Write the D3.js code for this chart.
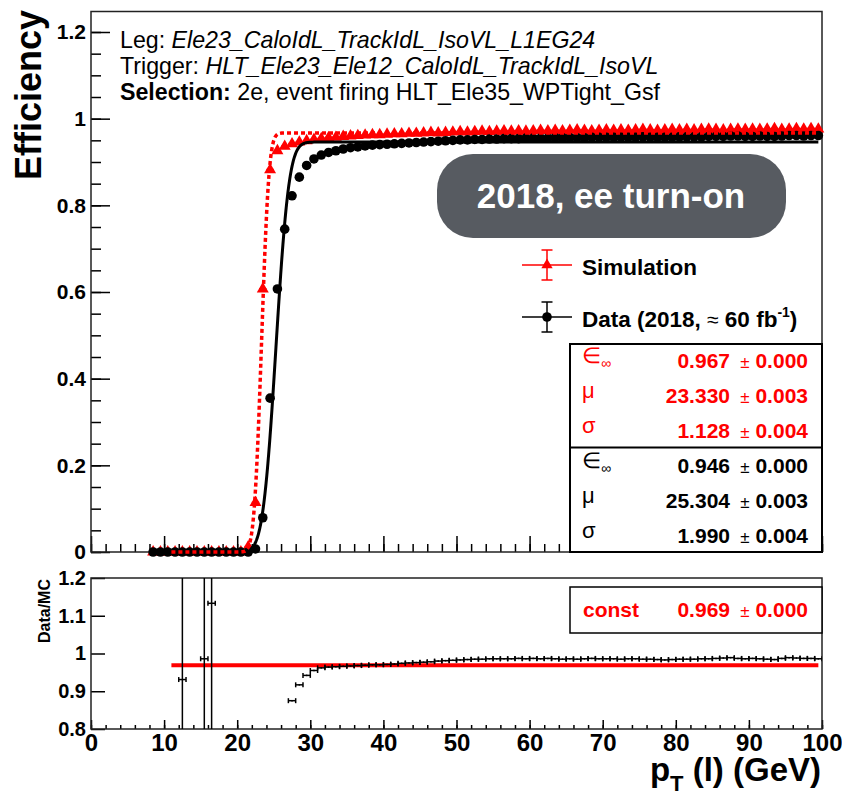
<!DOCTYPE html>
<html>
<head>
<meta charset="utf-8">
<script src="https://cdn.jsdelivr.net/npm/d3@7"></script>
<style>
body { margin: 0; background: #fff; }
svg { display: block; font-family: "Liberation Sans", Arial, Helvetica, sans-serif; }
</style>
</head>
<body>
<script>
var binCenters = [8.5, 9.5, 10.5, 11.5, 12.5, 13.5, 14.5, 15.5, 16.5, 17.5, 18.5, 19.5, 20.5, 21.5, 22.5, 23.5, 24.5, 25.5, 26.5, 27.5,
  28.5, 29.5, 30.5, 31.5, 32.5, 33.5, 34.5, 35.5, 36.5, 37.5, 38.5, 39.5, 40.5, 41.5, 42.5, 43.5, 44.5, 45.5, 46.5, 47.5,
  48.5, 49.5, 50.5, 51.5, 52.5, 53.5, 54.5, 55.5, 56.5, 57.5, 58.5, 59.5, 60.5, 61.5, 62.5, 63.5, 64.5, 65.5, 66.5, 67.5,
  68.5, 69.5, 70.5, 71.5, 72.5, 73.5, 74.5, 75.5, 76.5, 77.5, 78.5, 79.5, 80.5, 81.5, 82.5, 83.5, 84.5, 85.5, 86.5, 87.5,
  88.5, 89.5, 90.5, 91.5, 92.5, 93.5, 94.5, 95.5, 96.5, 97.5, 98.5, 99.5];

var simEff = [0, 0, 0, 0, 0, 0, 0, 0, 0, 0, 0, 0, 0, 0.012, 0.114, 0.607, 0.882, 0.926, 0.936, 0.942,
  0.946, 0.949, 0.952, 0.954, 0.956, 0.957, 0.959, 0.960, 0.961, 0.962, 0.963, 0.963, 0.964, 0.965, 0.965, 0.966, 0.966, 0.967, 0.968, 0.967,
  0.968, 0.969, 0.970, 0.969, 0.970, 0.971, 0.970, 0.971, 0.972, 0.971, 0.972, 0.971, 0.972, 0.973, 0.972, 0.973, 0.972, 0.973, 0.974, 0.973,
  0.972, 0.973, 0.974, 0.973, 0.974, 0.973, 0.974, 0.975, 0.974, 0.973, 0.974, 0.975, 0.974, 0.975, 0.974, 0.975, 0.976, 0.975, 0.974, 0.975,
  0.976, 0.975, 0.976, 0.975, 0.976, 0.977, 0.975, 0.976, 0.977, 0.976, 0.977, 0.976];

var dataEff = [0, 0, 0, 0, 0, 0, 0, 0, 0, 0, 0, 0, 0, 0, 0.007, 0.079, 0.355, 0.607, 0.745, 0.822,
  0.865, 0.892, 0.907, 0.916, 0.922, 0.926, 0.930, 0.933, 0.935, 0.937, 0.939, 0.940, 0.941, 0.942, 0.943, 0.944, 0.945, 0.946, 0.947, 0.948,
  0.949, 0.950, 0.951, 0.951, 0.952, 0.952, 0.953, 0.953, 0.954, 0.954, 0.954, 0.955, 0.955, 0.955, 0.955, 0.956, 0.956, 0.956, 0.956, 0.956,
  0.957, 0.957, 0.957, 0.957, 0.957, 0.957, 0.957, 0.958, 0.957, 0.957, 0.957, 0.957, 0.958, 0.958, 0.958, 0.958, 0.959, 0.959, 0.959, 0.960,
  0.960, 0.959, 0.959, 0.960, 0.959, 0.959, 0.960, 0.961, 0.961, 0.960, 0.961, 0.961];

var ratioX = [12.5, 15.5, 16.5, 27.5, 28.5, 29.5, 30.5, 31.5, 32.5, 33.5, 34.5, 35.5, 36.5, 37.5, 38.5, 39.5, 40.5, 41.5, 42.5, 43.5,
  44.5, 45.5, 46.5, 47.5, 48.5, 49.5, 50.5, 51.5, 52.5, 53.5, 54.5, 55.5, 56.5, 57.5, 58.5, 59.5, 60.5, 61.5, 62.5, 63.5,
  64.5, 65.5, 66.5, 67.5, 68.5, 69.5, 70.5, 71.5, 72.5, 73.5, 74.5, 75.5, 76.5, 77.5, 78.5, 79.5, 80.5, 81.5, 82.5, 83.5,
  84.5, 85.5, 86.5, 87.5, 88.5, 89.5, 90.5, 91.5, 92.5, 93.5, 94.5, 95.5, 96.5, 97.5, 98.5, 99.5];

var ratioVal = [0.931, 0.986, 1.133, 0.875, 0.917, 0.942, 0.955, 0.962, 0.964, 0.965, 0.966, 0.967, 0.968, 0.969, 0.970, 0.970, 0.971, 0.972, 0.974, 0.975,
  0.976, 0.977, 0.978, 0.980, 0.981, 0.982, 0.983, 0.984, 0.985, 0.985, 0.986, 0.986, 0.986, 0.986, 0.987, 0.986, 0.987, 0.986, 0.987, 0.986,
  0.985, 0.986, 0.985, 0.986, 0.987, 0.986, 0.986, 0.986, 0.985, 0.986, 0.986, 0.985, 0.985, 0.984, 0.983, 0.984, 0.985, 0.985, 0.985, 0.986,
  0.986, 0.987, 0.988, 0.989, 0.987, 0.986, 0.987, 0.986, 0.985, 0.984, 0.987, 0.989, 0.988, 0.987, 0.987, 0.986];

var ratioErr = [1.5, 1.5, 1.5, 0.002, 0.002, 0.002, 0.002, 0.002, 0.002, 0.002, 0.002, 0.002, 0.002, 0.002, 0.002, 0.002, 0.002, 0.002, 0.002, 0.002,
  0.002, 0.002, 0.002, 0.002, 0.002, 0.002, 0.002, 0.002, 0.002, 0.002, 0.002, 0.002, 0.002, 0.002, 0.002, 0.002, 0.002, 0.002, 0.002, 0.002,
  0.002, 0.002, 0.002, 0.002, 0.002, 0.002, 0.002, 0.002, 0.002, 0.002, 0.002, 0.002, 0.002, 0.002, 0.002, 0.002, 0.002, 0.002, 0.002, 0.002,
  0.002, 0.002, 0.002, 0.002, 0.002, 0.002, 0.002, 0.002, 0.002, 0.002, 0.002, 0.002, 0.002, 0.002, 0.002, 0.002];

var simFit = [0.967, 23.330, 1.128];
var simFitErr = [0.000, 0.003, 0.004];
var dataFit = [0.946, 25.304, 1.990];
var dataFitErr = [0.000, 0.003, 0.004];
var constFit = [0.969, 0.000];
var fitRange = [11, 99.5];

var effTicks = [0, 0.2, 0.4, 0.6, 0.8, 1, 1.2];
var ratioTicks = [0.8, 0.9, 1, 1.1, 1.2];
var ptTicks = [0, 10, 20, 30, 40, 50, 60, 70, 80, 90, 100];

var width = 842, height = 797;
var frameL = 91, frameR = 822, topT = 11.5, topB = 552, botT = 578, botB = 729;

var svg = d3.select('body').append('svg')
  .attr('width', width)
  .attr('height', height);

var x = d3.scaleLinear().domain([0, 100]).range([frameL, frameR]);
var yEff = d3.scaleLinear().domain([0, 1.2]).range([topB, 32]);
var yRatio = d3.scaleLinear().domain([0.8, 1.2]).range([botB, botT]);

var ptMinor = d3.range(0, 101, 2);
var effMinor = d3.range(0, 1.24, 0.05);

function erf(v) {
  var s = v < 0 ? -1 : 1;
  v = Math.abs(v);
  var t = 1 / (1 + 0.3275911 * v);
  var y = 1 - (((((1.061405429 * t - 1.453152027) * t) + 1.421413741) * t - 0.284496736) * t + 0.254829592) * t * Math.exp(-v * v);
  return s * y;
}
function turnOn(p) {
  return function (pt) { return p[0] / 2 * (1 + erf((pt - p[1]) / p[2])); };
}

function styleAxis(g, size) {
  g.select('.domain').remove();
  g.selectAll('line').attr('stroke', '#000').attr('stroke-width', 1.5);
  g.selectAll('text').attr('fill', '#000').attr('font-weight', 'bold').attr('font-size', size);
}

// top panel axes
svg.append('g').attr('transform', 'translate(0,' + topB + ')')
  .call(d3.axisBottom(x).tickValues(ptMinor).tickSize(-8).tickFormat(''))
  .call(styleAxis, 0);
svg.append('g').attr('transform', 'translate(0,' + topB + ')')
  .call(d3.axisBottom(x).tickValues(ptTicks).tickSize(-16).tickFormat(''))
  .call(styleAxis, 0);
svg.append('g').attr('transform', 'translate(' + frameL + ',0)')
  .call(d3.axisLeft(yEff).tickValues(effMinor).tickSize(-10).tickFormat(''))
  .call(styleAxis, 0);
svg.append('g').attr('transform', 'translate(' + frameL + ',0)')
  .call(d3.axisLeft(yEff).tickValues(effTicks).tickSize(-19).tickPadding(5).tickFormat(d3.format('~g')))
  .call(styleAxis, 21);

svg.append('rect')
  .attr('x', frameL).attr('y', topT)
  .attr('width', frameR - frameL).attr('height', topB - topT)
  .attr('fill', 'none').attr('stroke', '#222').attr('stroke-width', 1.5);

// bottom panel axes
svg.append('g').attr('transform', 'translate(0,' + botB + ')')
  .call(d3.axisBottom(x).tickValues(ptMinor).tickSize(-4).tickFormat(''))
  .call(styleAxis, 0);
svg.append('g').attr('transform', 'translate(0,' + botB + ')')
  .call(d3.axisBottom(x).tickValues(ptTicks).tickSize(-9).tickPadding(5).tickFormat(d3.format('d')))
  .call(styleAxis, 24);
svg.append('g').attr('transform', 'translate(' + frameL + ',0)')
  .call(d3.axisLeft(yRatio).tickValues(ratioTicks).tickSize(-14).tickPadding(5).tickFormat(d3.format('~g')))
  .call(styleAxis, 20);

svg.append('rect')
  .attr('x', frameL).attr('y', botT)
  .attr('width', frameR - frameL).attr('height', botB - botT)
  .attr('fill', 'none').attr('stroke', '#222').attr('stroke-width', 1.5);

// titles
svg.append('text')
  .attr('transform', 'translate(41,10) rotate(-90)')
  .attr('text-anchor', 'end')
  .attr('font-size', 36).attr('font-weight', 'bold')
  .text('Efficiency');

svg.append('text')
  .attr('transform', 'translate(50,579) rotate(-90)')
  .attr('text-anchor', 'end')
  .attr('font-size', 16).attr('font-weight', 'bold')
  .text('Data/MC');

var xt = svg.append('text')
  .attr('x', 821).attr('y', 781)
  .attr('text-anchor', 'end')
  .attr('font-size', 33).attr('font-weight', 'bold');
xt.append('tspan').text('p');
xt.append('tspan').attr('font-size', 22).attr('dy', 10).text('T');
xt.append('tspan').attr('dy', -10).text(' (l) (GeV)');

// header text
var hdr = [
  [['Leg: ', 'normal', 'normal'], ['Ele23_CaloIdL_TrackIdL_IsoVL_L1EG24', 'italic', 'normal']],
  [['Trigger: ', 'normal', 'normal'], ['HLT_Ele23_Ele12_CaloIdL_TrackIdL_IsoVL', 'italic', 'normal']],
  [['Selection:', 'normal', 'bold'], [' 2e, event firing HLT_Ele35_WPTight_Gsf', 'normal', 'normal']]
];
hdr.forEach(function (line, i) {
  var t = svg.append('text').attr('x', 120).attr('y', 48 + i * 26).attr('font-size', 23.2);
  line.forEach(function (p) {
    t.append('tspan').attr('font-style', p[1]).attr('font-weight', p[2]).text(p[0]);
  });
});

// rounded label
svg.append('rect')
  .attr('x', 437).attr('y', 154).attr('width', 349).attr('height', 84)
  .attr('rx', 36).attr('ry', 36)
  .attr('fill', '#575b61');
svg.append('text')
  .attr('x', 611).attr('y', 208)
  .attr('text-anchor', 'middle')
  .attr('font-size', 35).attr('font-weight', 'bold').attr('fill', '#fff')
  .text('2018, ee turn-on');

// points
function drawPoints(g, ys, color, kind) {
  var pts = binCenters.map(function (c, i) { return { x: c, y: ys[i] }; });
  g.selectAll('.xerr').data(pts).enter().append('line')
    .attr('x1', function (d) { return x(d.x - 0.5); })
    .attr('x2', function (d) { return x(d.x + 0.5); })
    .attr('y1', function (d) { return yEff(d.y); })
    .attr('y2', function (d) { return yEff(d.y); })
    .attr('stroke', color).attr('stroke-width', 2);
  if (kind === 'tri') {
    g.selectAll('.mk').data(pts).enter().append('path')
      .attr('d', d3.symbol(d3.symbolTriangle).size(62))
      .attr('transform', function (d) { return 'translate(' + x(d.x) + ',' + yEff(d.y) + ')'; })
      .attr('fill', color);
  } else {
    g.selectAll('.mk').data(pts).enter().append('circle')
      .attr('cx', function (d) { return x(d.x); })
      .attr('cy', function (d) { return yEff(d.y); })
      .attr('r', 4.8)
      .attr('fill', color);
  }
}

drawPoints(svg.append('g'), simEff, '#ff0000', 'tri');
drawPoints(svg.append('g'), dataEff, '#000', 'dot');

function fitLine(p) {
  var f = turnOn(p);
  var xs = d3.range(fitRange[0], fitRange[1] + 0.001, 0.05);
  return d3.line().x(function (v) { return x(v); }).y(function (v) { return yEff(f(v)); })(xs);
}

svg.append('path').attr('d', fitLine(dataFit))
  .attr('fill', 'none').attr('stroke', '#000').attr('stroke-width', 3);
svg.append('path').attr('d', fitLine(simFit))
  .attr('fill', 'none').attr('stroke', '#ff0000').attr('stroke-width', 3.5)
  .attr('stroke-dasharray', '4,3');

// legend
function legendEntry(yc, color, kind, label) {
  var g = svg.append('g');
  g.append('line').attr('x1', 522).attr('x2', 572).attr('y1', yc).attr('y2', yc)
    .attr('stroke', color).attr('stroke-width', 1.5);
  g.append('line').attr('x1', 547).attr('x2', 547).attr('y1', yc - 15).attr('y2', yc + 15)
    .attr('stroke', color).attr('stroke-width', 1.5);
  [yc - 15, yc + 15].forEach(function (yy) {
    g.append('line').attr('x1', 541.5).attr('x2', 552.5).attr('y1', yy).attr('y2', yy)
      .attr('stroke', color).attr('stroke-width', 1.5);
  });
  if (kind === 'tri') {
    g.append('path').attr('d', d3.symbol(d3.symbolTriangle).size(55))
      .attr('transform', 'translate(547,' + yc + ')').attr('fill', color);
  } else {
    g.append('circle').attr('cx', 547).attr('cy', yc).attr('r', 4.8).attr('fill', color);
  }
  return g.append('text').attr('x', 582).attr('y', yc + 10)
    .attr('font-size', 22.5).attr('font-weight', 'bold').text(label);
}
legendEntry(265, '#ff0000', 'tri', 'Simulation');
var dl = legendEntry(317, '#000', 'dot', '');
dl.append('tspan').text('Data (2018, ');
dl.append('tspan').attr('font-weight', 'normal').attr('font-size', 21).text('≈');
dl.append('tspan').text(' 60 fb');
dl.append('tspan').attr('font-size', 14).attr('dy', -10).text('-1');
dl.append('tspan').attr('dy', 10).text(')');

// fit stats boxes
svg.append('rect').attr('x', 570).attr('y', 344).attr('width', 252).attr('height', 208)
  .attr('fill', '#fff').attr('stroke', '#000').attr('stroke-width', 2);
svg.append('line').attr('x1', 570).attr('x2', 822).attr('y1', 447.5).attr('y2', 447.5)
  .attr('stroke', '#000').attr('stroke-width', 2);

var fmt = d3.format('.3f');
function statRow(yb, label, val, err, color) {
  var lt = svg.append('text').attr('x', 582).attr('y', yb - 5).attr('fill', color).attr('font-size', 22);
  if (label === 'eps') {
    lt.append('tspan').text('∈');
    lt.append('tspan').attr('font-size', 14).attr('dy', 5).text('∞');
  } else {
    lt.text(label);
  }
  svg.append('text').attr('x', 730).attr('y', yb).attr('text-anchor', 'end')
    .attr('font-size', 21).attr('font-weight', 'bold').attr('fill', color).text(val);
  svg.append('text').attr('x', 745).attr('y', yb).attr('text-anchor', 'middle')
    .attr('font-size', 17).attr('fill', color).text('±');
  svg.append('text').attr('x', 808).attr('y', yb).attr('text-anchor', 'end')
    .attr('font-size', 21).attr('font-weight', 'bold').attr('fill', color).text(err);
}
var statLabels = ['eps', 'μ', 'σ'];
statLabels.forEach(function (lab, i) {
  statRow(368 + i * 35, lab, fmt(simFit[i]), fmt(simFitErr[i]), '#ff0000');
  statRow(473 + i * 35, lab, fmt(dataFit[i]), fmt(dataFitErr[i]), '#000');
});

// ratio panel
svg.append('clipPath').attr('id', 'rclip').append('rect')
  .attr('x', frameL).attr('y', botT).attr('width', frameR - frameL).attr('height', botB - botT);

svg.append('line')
  .attr('x1', x(fitRange[0])).attr('x2', x(fitRange[1]))
  .attr('y1', yRatio(constFit[0])).attr('y2', yRatio(constFit[0]))
  .attr('stroke', '#ff0000').attr('stroke-width', 4);

var rg = svg.append('g').attr('clip-path', 'url(#rclip)');
var rpts = ratioX.map(function (c, i) { return { x: c, y: ratioVal[i], e: ratioErr[i] }; });
var rp = rg.selectAll('.rp').data(rpts).enter().append('g')
  .attr('stroke', '#000').attr('stroke-width', 1.5);
rp.append('line')
  .attr('x1', function (d) { return x(d.x - 0.5); })
  .attr('x2', function (d) { return x(d.x + 0.5); })
  .attr('y1', function (d) { return yRatio(d.y); })
  .attr('y2', function (d) { return yRatio(d.y); });
rp.append('line')
  .attr('x1', function (d) { return x(d.x); })
  .attr('x2', function (d) { return x(d.x); })
  .attr('y1', function (d) { return yRatio(d.y - d.e); })
  .attr('y2', function (d) { return yRatio(d.y + d.e); });
[-0.5, 0.5].forEach(function (o) {
  rp.append('line')
    .attr('x1', function (d) { return x(d.x + o); })
    .attr('x2', function (d) { return x(d.x + o); })
    .attr('y1', function (d) { return yRatio(d.y) - 2.5; })
    .attr('y2', function (d) { return yRatio(d.y) + 2.5; });
});

svg.append('rect').attr('x', 570).attr('y', 587).attr('width', 252).attr('height', 46)
  .attr('fill', '#fff').attr('stroke', '#000').attr('stroke-width', 1.5);
svg.append('text').attr('x', 583).attr('y', 617)
  .attr('font-size', 21).attr('font-weight', 'bold').attr('fill', '#ff0000').text('const');
svg.append('text').attr('x', 730).attr('y', 617).attr('text-anchor', 'end')
  .attr('font-size', 21).attr('font-weight', 'bold').attr('fill', '#ff0000').text(fmt(constFit[0]));
svg.append('text').attr('x', 745).attr('y', 617).attr('text-anchor', 'middle')
  .attr('font-size', 17).attr('fill', '#ff0000').text('±');
svg.append('text').attr('x', 808).attr('y', 617).attr('text-anchor', 'end')
  .attr('font-size', 21).attr('font-weight', 'bold').attr('fill', '#ff0000').text(fmt(constFit[1]));
</script>
</body>
</html>
